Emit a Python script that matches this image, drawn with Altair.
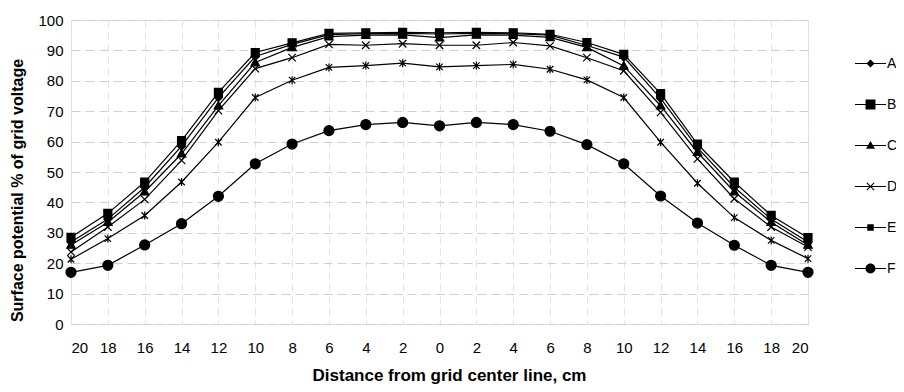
import altair as alt
import pandas as pd

X_LABELS = ["20", "18", "16", "14", "12", "10", "8", "6", "4", "2", "0",
            "2", "4", "6", "8", "10", "12", "14", "16", "18", "20"]
SERIES = ["A", "B", "C", "D", "E", "F"]

A = [27.0, 34.5, 45.0, 58.5, 74.5, 88.0, 92.0, 95.2, 95.5, 95.6, 95.4,
     95.6, 95.5, 95.0, 91.6, 87.8, 74.2, 58.0, 45.0, 34.5, 27.0]
B = [28.5, 36.4, 46.7, 60.3, 76.2, 89.3, 92.5, 95.6, 95.8, 95.9, 95.8,
     95.9, 95.8, 95.3, 92.6, 88.7, 75.8, 59.2, 46.7, 35.7, 28.4]
C = [26.0, 33.5, 43.5, 56.0, 71.8, 86.0, 91.0, 94.5, 95.0, 95.1, 94.2,
     95.1, 95.0, 94.3, 91.0, 84.9, 71.8, 56.5, 43.5, 33.5, 26.0]
D = [23.7, 31.9, 41.0, 53.8, 70.2, 84.0, 87.6, 92.0, 91.7, 92.2, 91.7,
     91.7, 92.6, 91.5, 87.6, 83.3, 69.6, 54.3, 41.2, 31.9, 25.3]
E = [21.3, 28.1, 35.7, 46.7, 59.8, 74.5, 80.2, 84.4, 85.0, 85.8, 84.6,
     85.0, 85.4, 83.8, 80.3, 74.5, 59.8, 46.3, 35.0, 27.5, 21.5]
F = [17.0, 19.3, 26.0, 33.0, 42.0, 52.7, 59.2, 63.6, 65.6, 66.3, 65.2,
     66.3, 65.6, 63.4, 59.0, 52.7, 42.1, 33.2, 25.9, 19.3, 17.0]

rows = []
for name, vals in zip(SERIES, [A, B, C, D, E, F]):
    for i, v in enumerate(vals):
        rows.append({"pos": i, "series": name, "value": v})
df = pd.DataFrame(rows)

# marker shapes in the plot (size 100 -> 1 unit = 5 px)
PLOT_SHAPES = [
    "M0,-0.8L0.8,0L0,0.8L-0.8,0Z",
    "M-0.8,-0.8H0.8V0.8H-0.8Z",
    "M0,-0.85L0.85,0.65L-0.85,0.65Z",
    "M-0.75,-0.75L0.75,0.75M-0.75,0.75L0.75,-0.75",
    "M-0.65,-0.65L0.65,0.65M-0.65,0.65L0.65,-0.65M0,-0.8L0,0.8",
    "circle",
]
# legend symbols: thin filled bar through a marker (size 961 -> 1 unit = 15.5 px)
BAR = "M-1,-0.037H1V0.037H-1Z"
LEGEND_SHAPES = [
    BAR + "M0,-0.26L0.26,0L0,0.26L-0.26,0Z",
    BAR + "M-0.32,-0.32H0.32V0.32H-0.32Z",
    BAR + "M0,-0.29L0.29,0.21L-0.29,0.21Z",
    BAR + "M-0.26,-0.21L-0.21,-0.26L0.26,0.21L0.21,0.26ZM0.21,-0.26L0.26,-0.21L-0.21,0.26L-0.26,0.21Z",
    BAR + "M-0.21,-0.21H0.21V0.21H-0.21Z",
    BAR + "M0.32,0A0.32,0.32,0,1,1,-0.32,0A0.32,0.32,0,1,1,0.32,0Z",
]

label_expr = "[" + ",".join("'%s'" % l for l in X_LABELS) + "][datum.value]"
FONT = "Liberation Sans"

x = alt.X(
    "pos:Q",
    scale=alt.Scale(domain=[0, 20], nice=False, zero=False),
    axis=alt.Axis(
        values=list(range(21)), labelExpr=label_expr,
        title="Distance from grid center line, cm",
        titleFont=FONT, titleFontSize=17, titleFontWeight="bold", titleColor="black",
        titleX=378, titleY=56, titleBaseline="alphabetic",
        labelFont=FONT, labelFontSize=15, labelColor="black", labelPadding=16,
        ticks=False, domain=False,
        grid=True, gridColor="#e2e2e2", gridDash=[7, 5], gridWidth=1,
    ),
)
y = alt.Y(
    "value:Q",
    scale=alt.Scale(domain=[0, 100], nice=False),
    axis=alt.Axis(
        values=list(range(0, 101, 10)),
        title="Surface potential % of grid voltage",
        titleFont=FONT, titleFontSize=16, titleFontWeight="bold", titleColor="black",
        titlePadding=12, titleY=170, titleAlign="center",
        labelFont=FONT, labelFontSize=15, labelColor="black", labelPadding=8,
        ticks=False, domain=False,
        grid=True, gridColor="#cfcfcf", gridDash=[9, 5], gridWidth=1,
    ),
)

base = alt.Chart(df)

lines = base.mark_line(color="black", strokeWidth=1.2).encode(
    x=x, y=y, detail="series:N"
)

points = base.mark_point(
    filled=True, fill="black", stroke="black", strokeWidth=1.2, size=100, opacity=1
).encode(
    x=x, y=y,
    shape=alt.Shape("series:N", scale=alt.Scale(domain=SERIES, range=PLOT_SHAPES), legend=None),
)

legend_layer = base.transform_filter("false").mark_point(
    filled=True, fill="black", stroke="black", strokeWidth=1.2
).encode(
    x=x, y=y,
    shape=alt.Shape(
        "series:N",
        scale=alt.Scale(domain=SERIES, range=LEGEND_SHAPES),
        legend=alt.Legend(
            title=None, orient="none", legendX=784, legendY=28,
            symbolSize=961, symbolFillColor="black", symbolStrokeColor="black",
            symbolStrokeWidth=0, symbolOpacity=1,
            labelFont=FONT, labelFontSize=14, labelColor="black", labelOffset=1,
            rowPadding=18, padding=0,
        ),
    ),
)

chart = (
    alt.layer(lines, points, legend_layer)
    .resolve_scale(shape="independent")
    .properties(
        width=737, height=304,
        autosize=alt.AutoSizeParams(type="none"),
        padding={"left": 63, "top": 12, "right": 88, "bottom": 60},
    )
    .configure_view(stroke=None)
    .configure(background="white")
)

chart.save("out.html", embed_options={"renderer": "svg", "actions": False})
